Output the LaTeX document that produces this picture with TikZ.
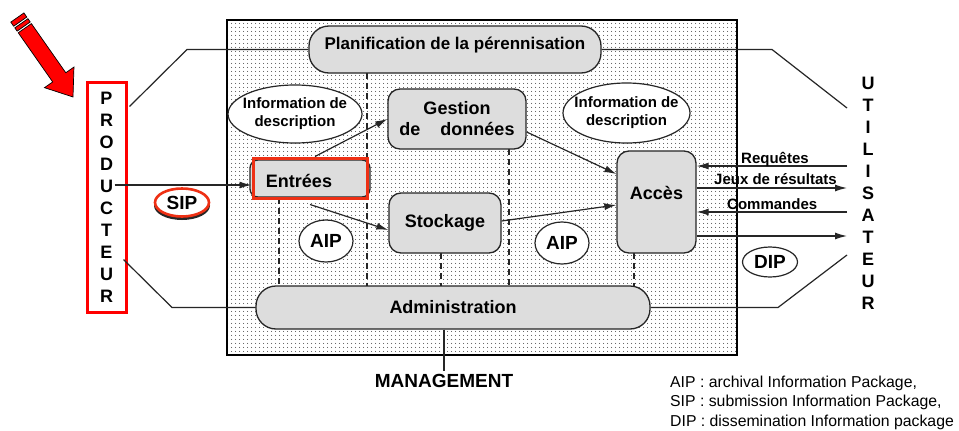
\documentclass[tikz,border=0pt]{standalone}
\usepackage{fontspec}
\setmainfont{Liberation Sans}
\usetikzlibrary{patterns.meta,arrows.meta,calc,shapes.geometric}
\definecolor{boxgrey}{RGB}{221,221,221}
\definecolor{mark}{RGB}{238,48,20}
\definecolor{pencil}{RGB}{255,0,0}

\begin{document}
\begin{tikzpicture}[x=1pt,y=-1pt,
  legendfont/.style={font=\fontsize{15.8}{19.3}\selectfont},
  bf15/.style={font=\fontsize{15}{18}\selectfont\bfseries},
  bf17/.style={font=\fontsize{17}{20}\selectfont\bfseries},
  bf18/.style={font=\fontsize{18}{21}\selectfont\bfseries},
  bf19/.style={font=\fontsize{19}{21}\selectfont\bfseries},
  procbox/.style={draw=black!85, line width=1.3pt, fill=boxgrey, rounded corners=12pt, inner sep=0pt, bf18},
  pill/.style={rounded corners=20pt},
  tag/.style={ellipse, draw=black!85, line width=1.2pt, fill=white, inner sep=0pt},
  link/.style={line width=1.2pt, draw=black!85},
  arr/.style={link, -{Latex[length=12pt,width=7pt]}},
  divider/.style={line width=1.2pt, draw=black!85, dash pattern=on 6pt off 4pt},
  pencilpart/.style={fill=pencil, draw=black, line width=0.7pt, line join=miter}
]
% page and its margins
\fill[white] (0,0) rectangle (959,431);
\useasboundingbox (0,0) rectangle (959,431);

% dotted system frame
\node[draw=black, line width=1.5pt, minimum width=510pt, minimum height=335pt, inner sep=0pt,
      pattern={Dots[distance=4pt,radius=0.6pt]}, pattern color=black!80] (oais) at (482,187.5) {};

% dashed dividers between the functional areas
\draw[divider] (367,73) -- (367,286);
\draw[divider] (279,198) -- (279,286);
\draw[divider] (509,149) -- (509,286);
\draw[divider] (441,253) -- (441,286);
\draw[divider] (634,253) -- (634,286);

% functional entities
\node[procbox, pill, minimum width=292pt, minimum height=47pt,
      label={[bf17, yshift=4pt]center:Planification de la pérennisation}] (plan) at (455,49.5) {};
\node[procbox, pill, minimum width=394pt, minimum height=43pt] (admin) at (453,307.5) {Administration};
\node[procbox, minimum width=138pt, minimum height=60pt, align=center] (gest) at (457,119) {Gestion\\de\hspace{15pt} données};
\node[procbox, minimum width=112pt, minimum height=60pt] (stock) at (445,223) {Stockage};
\node[procbox, minimum width=79pt, minimum height=102pt,
      label={[bf18, yshift=9pt]center:Accès}] (acces) at (656.5,202) {};
\node[procbox, rounded corners=8pt, minimum width=120pt, minimum height=37pt] (entrbg) at (310,178.5) {};
\node[draw=mark, line width=3pt, minimum width=114pt, minimum height=40pt, inner sep=0pt,
      label={[bf18, xshift=-11pt, yshift=-3pt]center:Entrées}] (entr) at (310,178) {};

% information packages
\node[tag, minimum width=134pt, minimum height=58pt,
      label={[bf15, align=center]center:Information de\\description}] (descL) at (295,114) {};
\node[tag, minimum width=127pt, minimum height=60pt,
      label={[bf15, align=center]center:Information de\\description}] (descR) at (626.5,113) {};
\node[tag, bf19, minimum width=54pt, minimum height=42pt] (aipL) at (326,241) {AIP};
\node[tag, bf19, minimum width=54pt, minimum height=42pt] (aipR) at (562,243) {AIP};
\node[tag, bf19, minimum width=55pt, minimum height=30pt] (dip) at (770,262) {DIP};
\node[ellipse, fill=black!85, minimum width=56pt, minimum height=29pt, inner sep=0pt] (sipshadow) at (182,205.5) {};
\node[tag, draw=mark, line width=2.6pt, minimum width=54pt, minimum height=28pt,
      font=\fontsize{19}{21}\selectfont\bfseries] (sip) at (182,202.5) {SIP};

% producer and consumer
\node[draw=pencil, line width=3pt, minimum width=39pt, minimum height=230pt, inner sep=0pt,
      align=center, font=\fontsize{18}{22}\selectfont\bfseries] (prod) at (106.5,197)
      {P\\R\\O\\D\\U\\C\\T\\E\\U\\R};
\node[align=center, inner sep=0pt, font=\fontsize{18}{22}\selectfont\bfseries] (util) at (868,193)
      {U\\T\\I\\L\\I\\S\\A\\T\\E\\U\\R};

% management
\node[bf19] (mgmt) at (444,381) {MANAGEMENT};
\draw[link] (mgmt.north |- admin.south) -- (mgmt.north);

% legend
\node[legendfont, anchor=north west, inner sep=0pt, align=left] (legend) at (670,376)
  {AIP : archival Information Package,\\SIP : submission Information Package,\\DIP : dissemination Information package};

% outer links of planning and administration
\coordinate (pl1) at ($(prod.north east)+(2,26)$);
\coordinate (pl2) at (187,49.5);
\coordinate (al1) at ($(prod.south east)+(-4,-54)$);
\coordinate (al2) at (172,307.5);
\coordinate (pr1) at (772,49.5);
\coordinate (pr2) at (847,108);
\coordinate (ar1) at (778,307.5);
\coordinate (ar2) at (847,255);
\draw[link] (pl1) -- (pl2) -- (plan.west);
\draw[link] (al1) -- (al2) -- (admin.west);
\draw[link] (plan.east) -- (pr1) -- (pr2);
\draw[link] (admin.east) -- (ar1) -- (ar2);

% ingest flows
\coordinate (sipS) at ($(prod.east)+(-13,-12)$);
\draw[arr] (sipS) -- (sipS -| entr.west);
\draw[arr] ([xshift=5pt]entr.north) -- (gest.west);
\draw[arr] ([yshift=-5pt]entr.south) -- ([yshift=-7pt]stock.west);
\draw[arr] ([yshift=-13pt]gest.east) -- ([yshift=28pt]acces.west);
\draw[arr] ([yshift=2pt]stock.east) -- ([yshift=-3pt]acces.west);

% access flows
\coordinate (req) at (847,166);
\coordinate (res) at (847,188);
\coordinate (cmd) at (847,212);
\coordinate (out) at (847,236);
\draw[arr] (req) -- (req -| acces.east);
\draw[arr] (res -| acces.east) -- (res);
\draw[arr] (cmd) -- (cmd -| acces.east);
\draw[arr] (out -| acces.east) -- (out);
\node[bf15, anchor=base west, inner sep=0pt] (reqlbl) at (741,163) {Requêtes};
\node[bf15, anchor=base west, inner sep=0pt] (reslbl) at (714,184) {Jeux de résultats};
\node[bf15, anchor=base west, inner sep=0pt] (cmdlbl) at (727,209) {Commandes};

% red pointer arrow
\begin{scope}[shift={(73,97)}, rotate=-55]
  \path[pencilpart] (0,0) -- (-24,18) -- (-24,8) -- (-84,8) -- (-84,-8) -- (-24,-8) -- (-24,-18) -- cycle;
  \path[pencilpart] (-86,-8) rectangle (-90,8);
  \path[pencilpart] (-92,-8) rectangle (-97,8);
\end{scope}
\end{tikzpicture}
\end{document}
